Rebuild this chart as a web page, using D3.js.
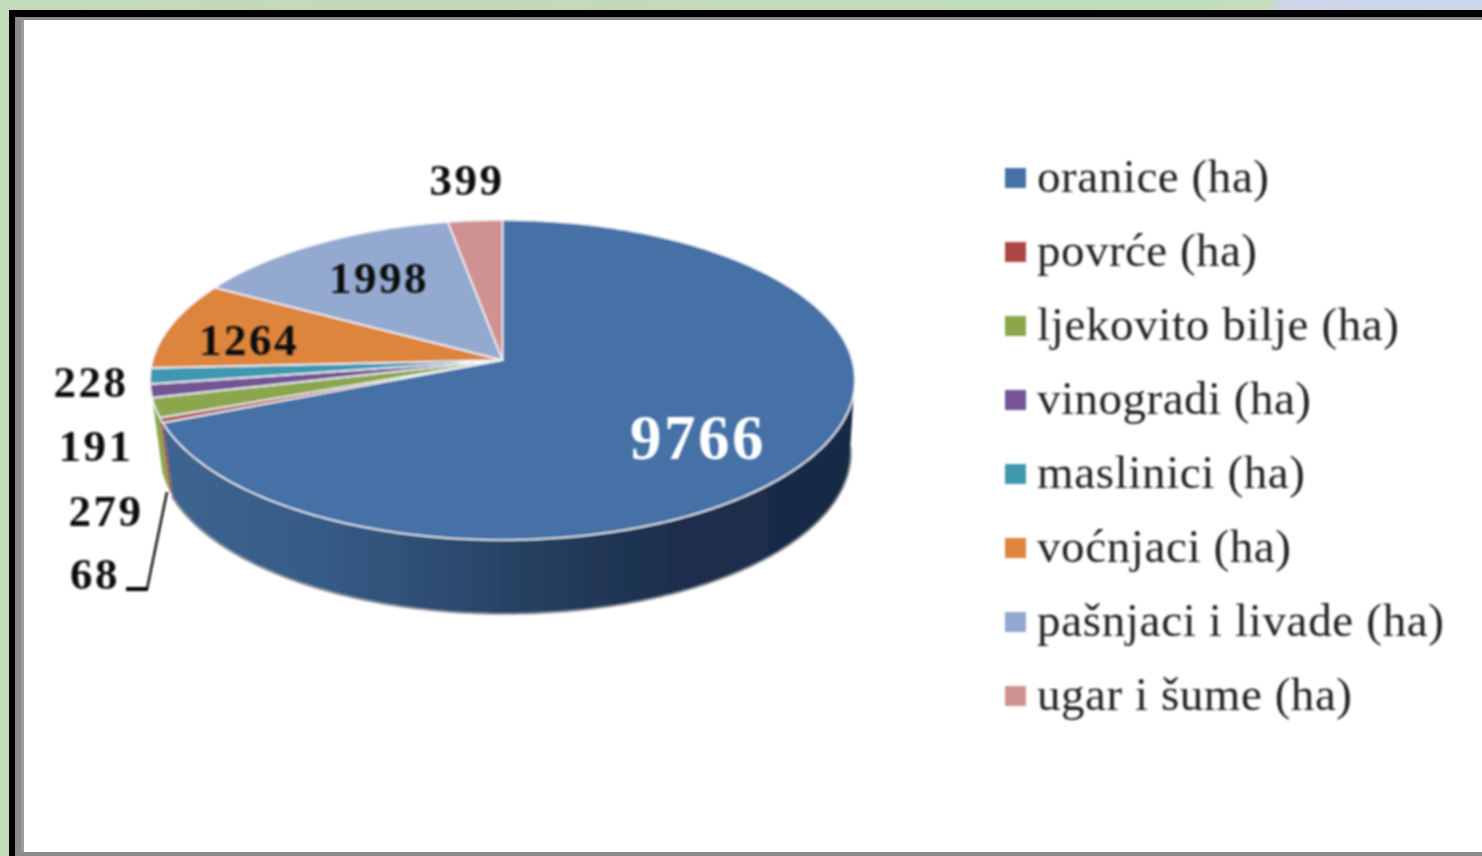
<!DOCTYPE html>
<html><head><meta charset="utf-8">
<script src="https://cdn.jsdelivr.net/npm/d3@7"></script>
<style>html,body{margin:0;padding:0;background:#fff;overflow:hidden}svg{display:block}text{font-family:"Liberation Serif",serif}</style>
</head><body><svg id="c" width="1482" height="856"></svg>
<script>
const categories = ["oranice (ha)","povrće (ha)","ljekovito bilje (ha)","vinogradi (ha)","maslinici (ha)","voćnjaci (ha)","pašnjaci i livade (ha)","ugar i šume (ha)"];
const values = [9766,68,279,191,228,1264,1998,399];
const colors = ["#4471a7","#aa4644","#8ba64e","#735596","#3f98b0","#dd843c","#93a9cf","#d09291"];
const legendEnds = [1269,1257,1399,1311,1305,1291,1444,1352];
const labelPos = [[698,438,63,"#fff"],[95,574,45,"#111"],[106,511,45,"#111"],[96,446,45,"#111"],[91,382,45,"#111"],[249,340,45,"#111"],[379,278,45,"#111"],[467,180,45,"#111"]];

const svg = d3.select("#c");
const defs = svg.append("defs");
defs.append("filter").attr("id","soft").attr("x","-5%").attr("y","-5%").attr("width","110%").attr("height","110%")
  .append("feGaussianBlur").attr("stdDeviation",0.8);
defs.append("filter").attr("id","softer").attr("x","-5%").attr("y","-5%").attr("width","110%").attr("height","110%")
  .append("feGaussianBlur").attr("stdDeviation",1.2);
const grad = defs.append("linearGradient").attr("id","side").attr("gradientUnits","userSpaceOnUse")
  .attr("x1",160).attr("x2",855).attr("y1",0).attr("y2",0);
[[0,"#3f6591"],[0.25,"#355a85"],[0.5,"#284365"],[0.72,"#1c304d"],[1,"#182a44"]].forEach(s=>grad.append("stop").attr("offset",s[0]).attr("stop-color",s[1]));
const bgTop = defs.append("linearGradient").attr("id","bg");
[[0,"#c2dcbc"],[0.3,"#c4d8b6"],[0.55,"#c2dcbc"],[0.855,"#c4deba"],[0.865,"#cdd5e6"],[1,"#ccd6e6"]].forEach(s=>bgTop.append("stop").attr("offset",s[0]).attr("stop-color",s[1]));

// backdrop and frame
svg.append("rect").attr("width",1482).attr("height",856).attr("fill","#c2dcbc");
svg.append("rect").attr("width",1482).attr("height",10).attr("fill","url(#bg)");
svg.append("rect").attr("x",9).attr("y",10).attr("width",1473).attr("height",846).attr("fill","#000");
svg.append("rect").attr("x",15).attr("y",17).attr("width",1467).attr("height",839).attr("fill","#8a8a8a");
svg.append("rect").attr("x",21).attr("y",20).attr("width",3).attr("height",832).attr("fill","#9c9c9c");
svg.append("rect").attr("x",24).attr("y",20).attr("width",1458).attr("height",832).attr("fill","#fff");

// projection of the tilted disc: unit coordinates to pixels
const topX = d3.scaleLinear().domain([-1,1]).range([150,855]);
const topY = d3.scaleLinear().domain([-1,1]).range([540,220]);
const botX = d3.scaleLinear().domain([-1,1]).range([160,850]);
const botY = d3.scaleLinear().domain([-1,1]).range([613,293]);
const tilt = 0.125;
function disc(theta){
  const u=Math.sin(theta), v=Math.cos(theta), d=1+tilt*v;
  return [u*Math.sqrt(1-tilt*tilt)/d,(v+tilt)/d];
}
const onTop = t=>{const p=disc(t);return [topX(p[0]),topY(p[1])];};
const onBot = t=>{const p=disc(t);return [botX(p[0]),botY(p[1])];};
const apex = [topX(0),topY(tilt)];
const pie = d3.pie().sort(null).value(d=>d)(values);
const line = d3.line();
const samples = (a,b)=>{const n=Math.max(2,Math.ceil((b-a)/0.01));return d3.range(n+1).map(i=>a+(b-a)*i/n);};
const deg = d=>d*Math.PI/180;

const chart = svg.append("g").attr("filter","url(#soft)");
// soft rim under the body
const blue = pie[0];
const rimAngles = samples(deg(95),blue.endAngle);
svg.insert("path","g").attr("d",line(rimAngles.map(onBot))).attr("fill","none").attr("stroke","#a8a8a8").attr("stroke-width",4).attr("filter","url(#softer)");
// shoulder of the wall on the right, where the body meets the top rim
chart.append("path").attr("d",line([onTop(deg(102)),onTop(deg(125)),onBot(deg(110)),onBot(deg(97))])+"Z").attr("fill","#182a44");
// visible outer walls, far ones first (the rest sit behind the top face)
[2,1,0].forEach(i=>{
  const s=samples(pie[i].startAngle,pie[i].endAngle);
  chart.append("path").attr("d",line(s.map(onTop).concat(s.slice().reverse().map(onBot)))+"Z")
    .attr("fill",i===0?"url(#side)":colors[i]);
});
// top face
chart.selectAll("path.slice").data(pie).join("path").attr("class","slice")
  .attr("d",d=>line([apex].concat(samples(d.startAngle,d.endAngle).map(onTop)))+"Z")
  .attr("fill",(d,i)=>colors[i]).attr("stroke","#f4f6fa").attr("stroke-width",1.5).attr("stroke-linejoin","round");

// leader for the smallest slice
const g = svg.append("g").attr("filter","url(#soft)");
g.append("path").attr("d",line([[167,492],[147,589]])).attr("fill","none").attr("stroke","#111").attr("stroke-width",2.4);
g.append("path").attr("d",line([[126,589],[148,589]])).attr("fill","none").attr("stroke","#000").attr("stroke-width",4);
// data labels
g.selectAll("text.v").data(values).join("text").attr("class","v")
  .attr("x",(d,i)=>labelPos[i][0]).attr("y",(d,i)=>labelPos[i][1]).attr("dy","0.33em")
  .attr("text-anchor","middle").attr("font-weight","bold")
  .attr("font-size",(d,i)=>labelPos[i][2]).attr("letter-spacing",2.5).attr("fill",(d,i)=>labelPos[i][3])
  .text(d=>d);
// legend
const rowY = d3.scalePoint().domain(categories).range([178,696]);
const leg = g.selectAll("g.l").data(categories).join("g").attr("class","l").attr("transform",d=>`translate(0,${rowY(d)})`);
leg.append("rect").attr("x",1005).attr("y",-10).attr("width",21).attr("height",20).attr("fill",(d,i)=>colors[i]);
leg.append("text").attr("x",1037).attr("y",0).attr("dy","0.3em").attr("font-size",47).attr("fill","#222")
  .attr("textLength",(d,i)=>legendEnds[i]-1037).attr("lengthAdjust","spacing").text(d=>d);
</script></body></html>
